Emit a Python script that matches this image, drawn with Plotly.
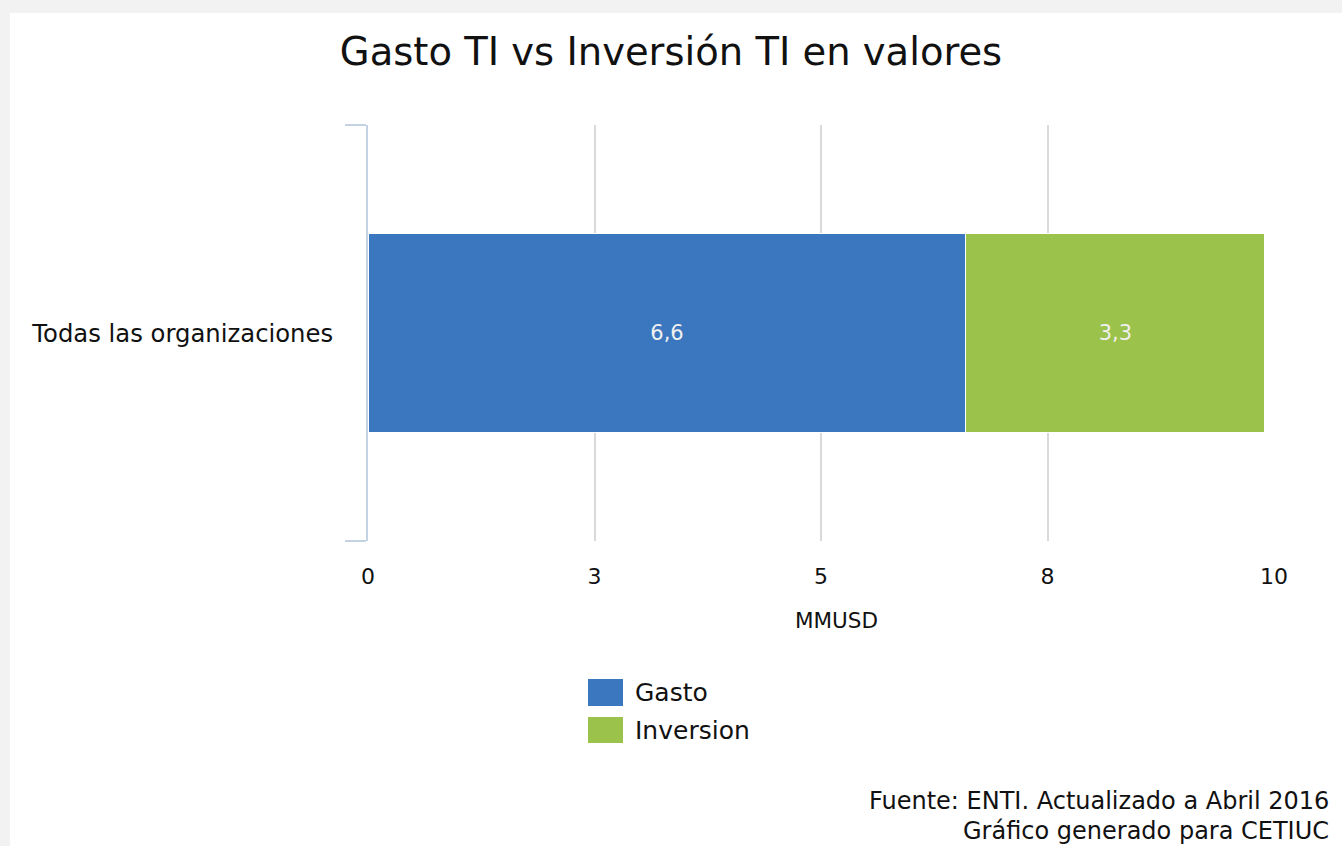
import plotly.graph_objects as go

# ---- data ----
categories = ["Todas las organizaciones"]
series_names = ["Gasto", "Inversion"]
series_values = [[6.6], [3.3]]
series_colors = ["#3b77bf", "#9bc24a"]
x_tick_vals = [0, 2.5, 5, 7.5, 10]
x_tick_text = ["0", "3", "5", "8", "10"]
title_text = "Gasto TI vs Inversión TI en valores"
x_axis_title = "MMUSD"
footnote_lines = ["Fuente: ENTI. Actualizado a Abril 2016", "Gráfico generado para CETIUC"]

W, H = 1342, 846
PL, PR, PT, PB = 368, 1274, 125, 541  # plot area in pixels
FONT = "DejaVu Sans"


def px_x(px):
    return (px - PL) / (PR - PL)


def px_y(py):
    return (PB - py) / (PB - PT)


fig = go.Figure()
for name, vals, col in zip(series_names, series_values, series_colors):
    fig.add_trace(go.Bar(
        y=categories,
        x=vals,
        name=name,
        orientation="h",
        marker=dict(color=col, line=dict(color="white", width=1)),
        text=[f"{v:.1f}".replace(".", ",") for v in vals],
        textposition="inside",
        insidetextanchor="middle",
        textfont=dict(family=FONT, size=21, color="#f0f0f0"),
        width=0.476,
        showlegend=False,
        hoverinfo="skip",
    ))

shapes = []
annotations = []

# white panel over gray page background
shapes.append(dict(type="rect", xref="paper", yref="paper", layer="below",
                   x0=px_x(10), x1=px_x(W + 5), y0=px_y(H + 5), y1=px_y(13),
                   fillcolor="white", line=dict(width=0)))

# legend (manual, to reproduce large swatches)
leg_rows = [(679, 706), (717, 743)]
for (y0, y1), name, col in zip(leg_rows, series_names, series_colors):
    shapes.append(dict(type="rect", xref="paper", yref="paper",
                       x0=px_x(588), x1=px_x(623), y0=px_y(y1), y1=px_y(y0),
                       fillcolor=col, line=dict(width=0)))
    annotations.append(dict(xref="paper", yref="paper", x=px_x(633), y=px_y((y0 + y1) / 2),
                            text=name, showarrow=False, xanchor="left", yanchor="middle",
                            font=dict(family=FONT, size=25, color="#111111")))

# axis title
annotations.append(dict(xref="paper", yref="paper", x=px_x(836), y=px_y(620),
                        text=x_axis_title, showarrow=False, xanchor="center", yanchor="middle",
                        font=dict(family=FONT, size=21.5, color="#111111")))

# footnote
for i, line in enumerate(footnote_lines):
    annotations.append(dict(xref="paper", yref="paper", x=px_x(1331), y=px_y(801 + 30 * i),
                            text=line, showarrow=False, xanchor="right", yanchor="middle",
                            font=dict(family=FONT, size=24, color="#111111")))

fig.update_layout(
    width=W, height=H,
    margin=dict(l=PL, r=W - PR, t=PT, b=H - PB, pad=0),
    paper_bgcolor="#f2f2f2",
    plot_bgcolor="rgba(0,0,0,0)",
    barmode="stack",
    showlegend=False,
    font=dict(family=FONT, color="#111111"),
    title=dict(text=title_text, x=0.5, xref="container", xanchor="center",
               y=1 - 52 / H, yref="container", yanchor="middle",
               font=dict(family=FONT, size=38.5, color="#111111")),
    xaxis=dict(range=[0, 10], tickmode="array", tickvals=x_tick_vals, ticktext=x_tick_text,
               showgrid=True, gridcolor="#d9d9d9", gridwidth=2, zeroline=False,
               showline=False, ticks="", ticklabelstandoff=20,
               tickfont=dict(family=FONT, size=22, color="#111111"), fixedrange=True),
    yaxis=dict(type="category", showline=True, linecolor="#c4d3e4", linewidth=2,
               ticks="outside", tickson="boundaries", ticklen=21, tickwidth=2,
               tickcolor="#c4d3e4", ticklabelstandoff=28, showgrid=False, zeroline=False,
               range=[-0.5, 0.5],
               tickfont=dict(family=FONT, size=24.3, color="#111111"), fixedrange=True),
    shapes=shapes,
    annotations=annotations,
)

fig.write_html("out.html", config={"displayModeBar": False},
               post_script="document.body.style.margin='0';document.body.style.overflow='hidden';")
